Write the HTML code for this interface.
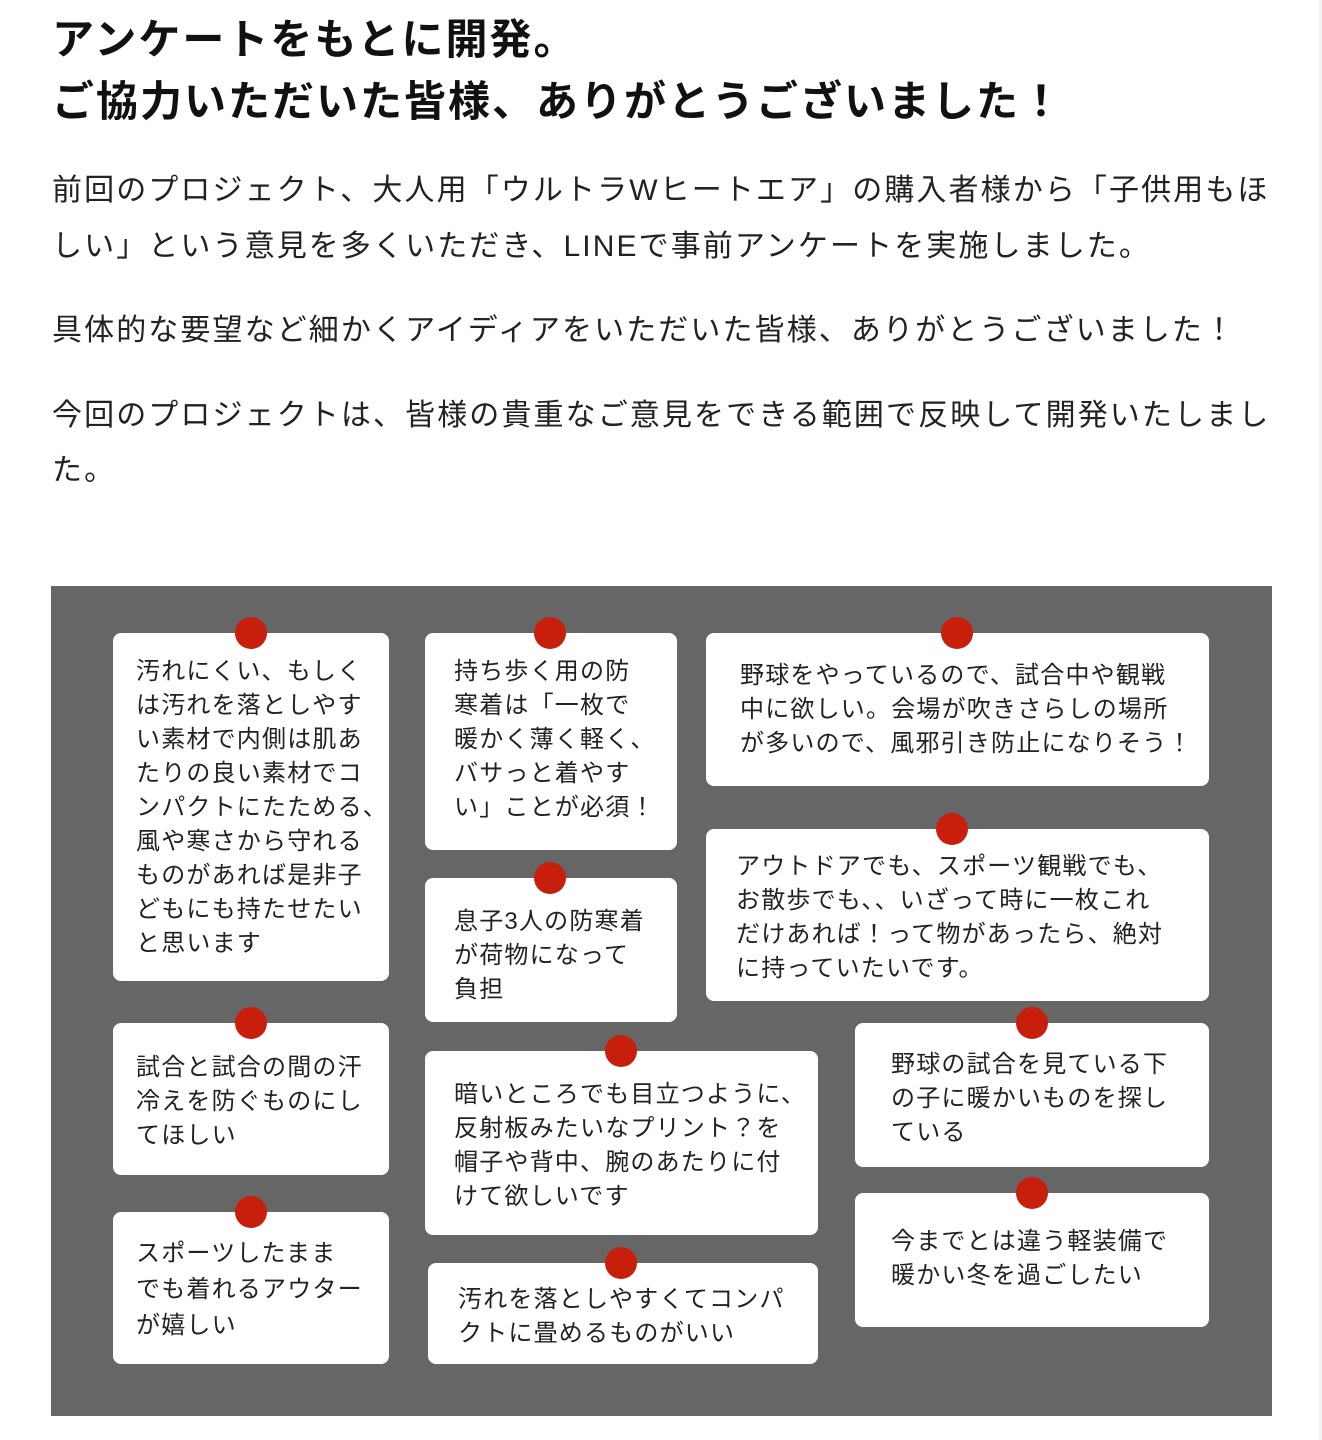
<!DOCTYPE html>
<html><head><meta charset="utf-8"><style>
*{margin:0;padding:0;box-sizing:border-box}
body{width:1322px;height:1440px;background:#fff;position:relative;overflow:hidden;font-family:"Liberation Sans","Noto Sans CJK JP",sans-serif;color:#222}
.t{position:absolute;white-space:nowrap;line-height:1}
.h{font-size:42px;letter-spacing:2px;font-weight:bold;color:#111}
.p{font-size:30px;letter-spacing:2.1px;color:#222}
.panel{position:absolute;left:51px;top:586px;width:1221px;height:830px;background:#666}
.c{position:absolute;background:#fff;border-radius:8px}
.d{position:absolute;width:32px;height:32px;border-radius:50%;background:#c81f0c}
.l{position:absolute;white-space:nowrap;font-size:24px;letter-spacing:1.2px;line-height:34px;color:#222}
</style></head><body>
<div style="position:absolute;right:0;top:0;width:3px;height:1440px;background:#f2f2f2"></div>
<div class="t h" style="left:52px;top:19px">アンケートをもとに開発。</div>
<div class="t h" style="left:52px;top:81px">ご協力いただいた皆様、ありがとうございました！</div>
<div class="t p" style="left:52px;top:176px">前回のプロジェクト、大人用「ウルトラWヒートエア」の購入者様から「子供用もほ</div>
<div class="t p" style="left:52px;top:232px">しい」という意見を多くいただき、LINEで事前アンケートを実施しました。</div>
<div class="t p" style="left:52px;top:316px">具体的な要望など細かくアイディアをいただいた皆様、ありがとうございました！</div>
<div class="t p" style="left:52px;top:401px">今回のプロジェクトは、皆様の貴重なご意見をできる範囲で反映して開発いたしまし</div>
<div class="t p" style="left:52px;top:456px">た。</div>
<div class="panel"></div>

<div class="c" style="left:113px;top:633px;width:276px;height:348px"></div>
<div class="c" style="left:425px;top:633px;width:252px;height:217px"></div>
<div class="c" style="left:706px;top:633px;width:503px;height:153px"></div>
<div class="c" style="left:425px;top:878px;width:252px;height:144px"></div>
<div class="c" style="left:706px;top:829px;width:503px;height:172px"></div>
<div class="c" style="left:113px;top:1023px;width:276px;height:152px"></div>
<div class="c" style="left:425px;top:1051px;width:393px;height:184px"></div>
<div class="c" style="left:855px;top:1023px;width:354px;height:144px"></div>
<div class="c" style="left:113px;top:1212px;width:276px;height:152px"></div>
<div class="c" style="left:428px;top:1263px;width:390px;height:101px"></div>
<div class="c" style="left:855px;top:1193px;width:354px;height:134px"></div>

<div class="d" style="left:235px;top:617px"></div>
<div class="d" style="left:534px;top:617px"></div>
<div class="d" style="left:941px;top:617px"></div>
<div class="d" style="left:534px;top:862px"></div>
<div class="d" style="left:936px;top:813px"></div>
<div class="d" style="left:235px;top:1007px"></div>
<div class="d" style="left:605px;top:1035px"></div>
<div class="d" style="left:1016px;top:1007px"></div>
<div class="d" style="left:235px;top:1196px"></div>
<div class="d" style="left:605px;top:1247px"></div>
<div class="d" style="left:1016px;top:1177px"></div>

<div class="l" style="left:136px;top:655px">汚れにくい、もしく<br>は汚れを落としやす<br>い素材で内側は肌あ<br>たりの良い素材でコ<br>ンパクトにたためる、<br>風や寒さから守れる<br>ものがあれば是非子<br>どもにも持たせたい<br>と思います</div>
<div class="l" style="left:454px;top:655px">持ち歩く用の防<br>寒着は「一枚で<br>暖かく薄く軽く、<br>バサっと着やす<br>い」ことが必須！</div>
<div class="l" style="left:740px;top:659px">野球をやっているので、試合中や観戦<br>中に欲しい。会場が吹きさらしの場所<br>が多いので、風邪引き防止になりそう！</div>
<div class="l" style="left:454px;top:905px">息子3人の防寒着<br>が荷物になって<br>負担</div>
<div class="l" style="left:736px;top:850px">アウトドアでも、スポーツ観戦でも、<br>お散歩でも、、いざって時に一枚これ<br>だけあれば！って物があったら、絶対<br>に持っていたいです。</div>
<div class="l" style="left:136px;top:1051px">試合と試合の間の汗<br>冷えを防ぐものにし<br>てほしい</div>
<div class="l" style="left:454px;top:1078px">暗いところでも目立つように、<br>反射板みたいなプリント？を<br>帽子や背中、腕のあたりに付<br>けて欲しいです</div>
<div class="l" style="left:891px;top:1048px">野球の試合を見ている下<br>の子に暖かいものを探し<br>ている</div>
<div class="l" style="left:136px;top:1236px;line-height:36px">スポーツしたまま<br>でも着れるアウター<br>が嬉しい</div>
<div class="l" style="left:458px;top:1283px">汚れを落としやすくてコンパ<br>クトに畳めるものがいい</div>
<div class="l" style="left:891px;top:1225px">今までとは違う軽装備で<br>暖かい冬を過ごしたい</div>
</body></html>
